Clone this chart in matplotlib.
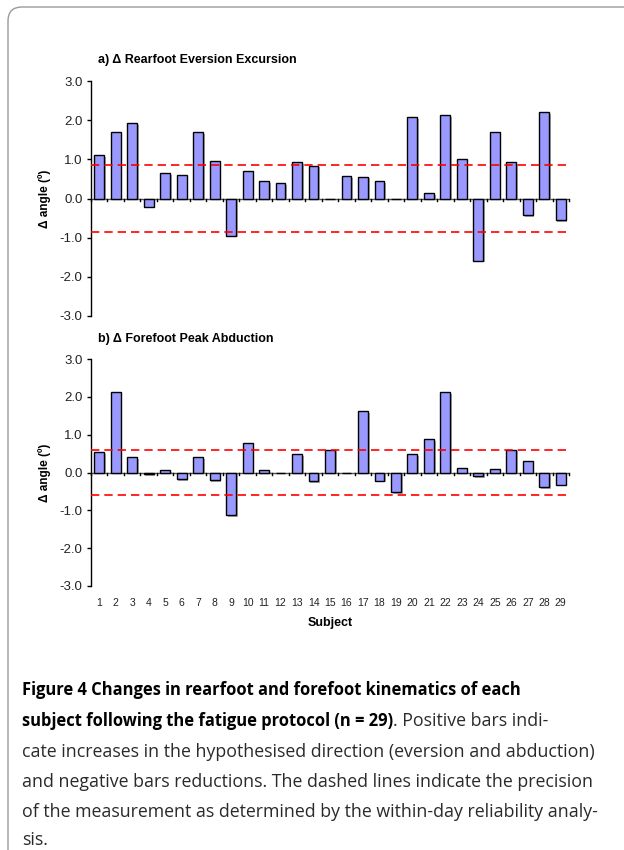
import matplotlib
matplotlib.use("Agg")
import matplotlib.pyplot as plt
import matplotlib.patheffects as pe
from matplotlib.patches import FancyBboxPatch
from matplotlib.transforms import IdentityTransform

# Data
subjects = list(range(1, 30))
rearfoot_eversion = [1.11, 1.69, 1.92, -0.21, 0.65, 0.60, 1.69, 0.95, -0.95, 0.70,
                     0.44, 0.39, 0.92, 0.84, 0.0, 0.57, 0.56, 0.44, 0.0, 2.08,
                     0.13, 2.12, 1.00, -1.59, 1.69, 0.92, -0.43, 2.20, -0.55]
forefoot_abduction = [0.54, 2.12, 0.41, -0.05, 0.06, -0.18, 0.40, -0.20, -1.13, 0.77,
                      0.06, 0.0, 0.49, -0.23, 0.60, 0.0, 1.62, -0.22, -0.52, 0.49,
                      0.88, 2.12, 0.13, -0.10, 0.08, 0.60, 0.31, -0.38, -0.32]
rearfoot_precision = 0.86
forefoot_precision = 0.60

panel_titles = ["a) \u0394 Rearfoot Eversion Excursion", "b) \u0394 Forefoot Peak Abduction"]
ylabel = "\u0394 angle (\u00ba)"
caption_bold = ["Figure 4 Changes in rearfoot and forefoot kinematics of each",
                "subject following the fatigue protocol (n = 29)"]
caption_rest = [". Positive bars indi-",
                "cate increases in the hypothesised direction (eversion and abduction)",
                "and negative bars reductions. The dashed lines indicate the precision",
                "of the measurement as determined by the within-day reliability analy-",
                "sis."]

plt.rcParams["font.family"] = ["Liberation Sans", "DejaVu Sans"]

W, H = 624, 850
fig = plt.figure(figsize=(W / 100, H / 100), dpi=100)


def px(x0, y_top, x1, y_bot):
    return [x0 / W, 1 - y_bot / H, (x1 - x0) / W, (y_bot - y_top) / H]


def draw_panel(ax, values, precision, title, show_xlabels):
    bars = ax.bar(subjects, values, width=0.6, color="#9999FF",
                  edgecolor="black", linewidth=1.0, zorder=3)
    for b in bars:
        b.set_path_effects([pe.SimplePatchShadow(offset=(1.2, -1.2),
                                                 shadow_rgbFace="0.45", alpha=0.6),
                            pe.Normal()])
    ax.axhline(precision, color="red", linestyle=(0, (5, 3)), linewidth=1.2, zorder=4)
    ax.axhline(-precision, color="red", linestyle=(0, (5, 3)), linewidth=1.2, zorder=4)
    ax.set_xlim(0.5, 29.5)
    ax.set_ylim(-3.0, 3.0)
    ax.set_yticks([-3, -2, -1, 0, 1, 2, 3])
    ax.set_yticklabels(["%.1f" % v for v in [-3, -2, -1, 0, 1, 2, 3]], fontsize=9.5,
                       color="#222222")
    ax.tick_params(axis="y", direction="out", length=3, width=1, pad=3)
    for s in ["top", "right", "bottom"]:
        ax.spines[s].set_visible(False)
    ax.spines["left"].set_linewidth(1.0)
    # category axis at zero with ticks between bars
    ax.axhline(0, color="#555555", linewidth=1.0, zorder=2)
    ax.set_xticks([])
    for t in range(0, 30):
        ax.plot([t + 0.5, t + 0.5], [0, -0.07], color="black", linewidth=1.0,
                zorder=2, clip_on=False)
    if show_xlabels:
        for s, lab in zip(subjects, subjects):
            ax.text(s, -3.45, str(lab), ha="center", va="center", fontsize=7.5,
                    color="#222222")
        ax.text(15, -3.98, "Subject", ha="center", va="center", fontsize=9,
                fontweight="bold")
    ax.set_ylabel(ylabel, fontsize=8.5, fontweight="bold", labelpad=6)
    ax.text(0.015, 1.09, title, transform=ax.transAxes, fontsize=9,
            fontweight="bold", ha="left", va="center")


ax1 = fig.add_axes(px(91, 81, 569, 316))
draw_panel(ax1, rearfoot_eversion, rearfoot_precision, panel_titles[0], False)
ax2 = fig.add_axes(px(91, 359, 569, 586))
draw_panel(ax2, forefoot_abduction, forefoot_precision, panel_titles[1], True)

# frame with rounded top-left corner
frame = FancyBboxPatch((8, -20), W + 40, H + 20 - 7, transform=IdentityTransform(),
                       boxstyle="round,pad=0,rounding_size=14", fill=False,
                       edgecolor="#9a9a9a", linewidth=1.0)
fig.patches.append(frame)

# caption
cap_font = ["Open Sans", "DejaVu Sans"]
bold_size = 11.9
reg_size = 12.8
line_y = [690, 721, 752, 782, 812, 840]
fig.text(22 / W, 1 - line_y[0] / H, caption_bold[0], fontsize=bold_size,
         fontweight="bold", family=cap_font, va="center", ha="left")
t_bold = fig.text(22 / W, 1 - line_y[1] / H, caption_bold[1], fontsize=bold_size,
                  fontweight="bold", family=cap_font, va="center", ha="left")
fig.canvas.draw()
bb = t_bold.get_window_extent()
fig.text(bb.x1 / W, 1 - line_y[1] / H, caption_rest[0], fontsize=reg_size,
         family=cap_font, va="center", ha="left", color="#2a2a2a")
for y, line in zip(line_y[2:], caption_rest[1:]):
    fig.text(22 / W, 1 - y / H, line, fontsize=reg_size, family=cap_font,
             va="center", ha="left", color="#2a2a2a")

fig.savefig("out.png", dpi=100)
